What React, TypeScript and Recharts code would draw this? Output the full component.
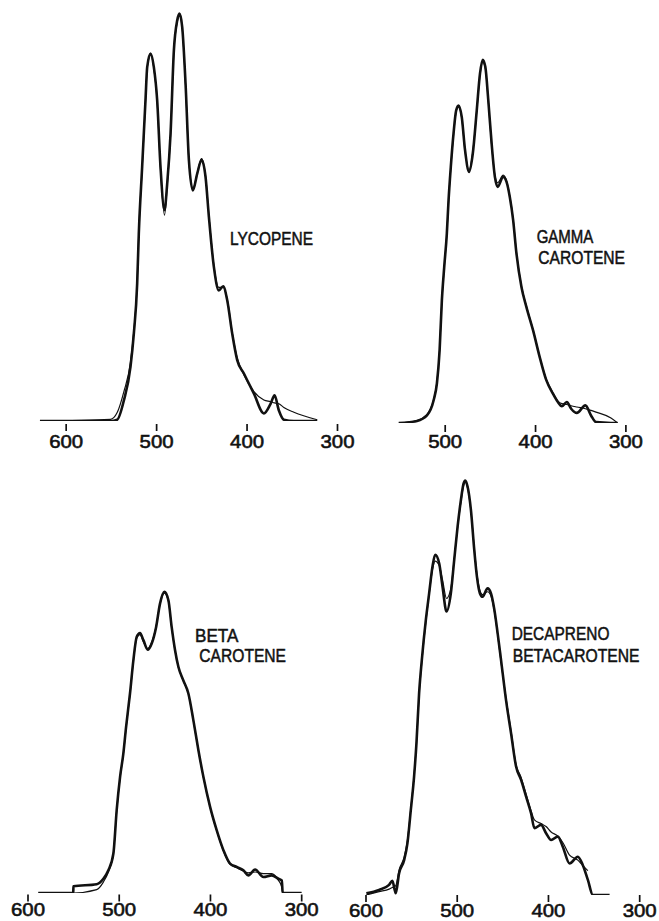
import React from 'react';
import { LineChart, Line, XAxis, YAxis } from 'recharts';

// wavelength ticks (nm)
const ticksFull = [600, 500, 400, 300];
const ticksShort = [500, 400, 300];

// LYCOPENE
const lycopeneNm = [629, 551, 543.6, 536.2, 528.9, 525.2, 521.5, 519.7, 516.0, 512.3, 510.4, 506.7, 503.1, 499.4, 495.7, 491.3, 488.3, 484.6, 480.9, 477.2, 474.7, 471.7, 468.0, 464.3, 459.9, 455.1, 450.3, 445.9, 442.2, 436.7, 431.2, 426.4, 421.9, 416.4, 410.9, 403.5, 392.4, 381.4, 374.0, 369.6, 364.8, 359.3, 348.2, 322.4];
const lycopeneObserved = [0, 0, 0.003, 0.049, 0.129, 0.208, 0.327, 0.446, 0.605, 0.764, 0.843, 0.875, 0.843, 0.764, 0.605, 0.502, 0.565, 0.684, 0.883, 0.954, 0.970, 0.938, 0.803, 0.621, 0.549, 0.589, 0.622, 0.581, 0.486, 0.367, 0.311, 0.321, 0.287, 0.208, 0.145, 0.113, 0.065, 0.018, 0.041, 0.061, 0.025, 0.003, 0, 0];
const lycopeneFitted = [0, 0.004, 0.02, 0.07, 0.14, 0.215, 0.33, 0.45, 0.60, 0.76, 0.84, 0.872, 0.84, 0.76, 0.60, 0.49, 0.56, 0.68, 0.88, 0.95, 0.966, 0.935, 0.80, 0.62, 0.553, 0.59, 0.625, 0.583, 0.49, 0.37, 0.318, 0.318, 0.29, 0.21, 0.15, 0.11, 0.07, 0.05, 0.046, 0.043, 0.041, 0.032, 0.021, 0.003];

// GAMMA CAROTENE
const gammaNm = [551.4, 531.2, 520.2, 512.8, 509.2, 506.2, 503.7, 501.1, 498.2, 496.3, 493.8, 490.8, 487.9, 485.3, 481.7, 478.0, 473.6, 469.5, 465.1, 461.5, 458.5, 455.6, 452.3, 448.6, 445.0, 442.0, 435.8, 432.1, 428.5, 424.8, 421.1, 415.6, 410.1, 402.8, 395.4, 388.1, 380.8, 375.3, 370.9, 365.4, 360.6, 354.3, 344.8, 338.6, 333.1, 316.5, 309.2];
const gammaObserved = [0, 0.005, 0.018, 0.054, 0.094, 0.173, 0.292, 0.371, 0.451, 0.530, 0.610, 0.689, 0.744, 0.756, 0.729, 0.649, 0.598, 0.641, 0.744, 0.832, 0.865, 0.848, 0.768, 0.665, 0.586, 0.562, 0.586, 0.574, 0.538, 0.483, 0.403, 0.324, 0.276, 0.221, 0.157, 0.102, 0.070, 0.050, 0.040, 0.050, 0.034, 0.024, 0.042, 0.018, 0.002, 0, 0];
const gammaFitted = [0, 0.006, 0.02, 0.056, 0.096, 0.175, 0.29, 0.37, 0.45, 0.528, 0.608, 0.686, 0.741, 0.752, 0.726, 0.647, 0.603, 0.645, 0.742, 0.828, 0.86, 0.845, 0.766, 0.662, 0.59, 0.572, 0.59, 0.576, 0.54, 0.485, 0.405, 0.326, 0.278, 0.222, 0.158, 0.104, 0.072, 0.052, 0.046, 0.044, 0.041, 0.038, 0.034, 0.030, 0.026, 0.012, 0];

// BETA CAROTENE
const betaNm = [588.7, 550.4, 550.2, 524.7, 517.4, 511.9, 506.4, 502.8, 499.1, 495.5, 492.5, 488.2, 484.5, 480.8, 477.2, 473.5, 468.8, 464.4, 459.6, 455.3, 450.5, 446.1, 442.5, 438.8, 435.1, 429.7, 424.2, 418.7, 413.2, 407.7, 400.4, 393.1, 385.8, 378.5, 371.2, 363.9, 358.4, 351.1, 341.9, 332.8, 325.5, 321.8, 320.8, 299.9];
const betaObserved = [0, 0, 0.016, 0.021, 0.034, 0.054, 0.094, 0.197, 0.276, 0.332, 0.395, 0.475, 0.554, 0.610, 0.619, 0.602, 0.579, 0.594, 0.633, 0.689, 0.717, 0.697, 0.633, 0.578, 0.538, 0.506, 0.475, 0.411, 0.340, 0.276, 0.205, 0.149, 0.102, 0.070, 0.062, 0.054, 0.042, 0.056, 0.038, 0.042, 0.034, 0.030, 0, 0];
const betaFitted = [0, 0, 0, 0.008, 0.026, 0.05, 0.094, 0.195, 0.274, 0.33, 0.393, 0.473, 0.552, 0.607, 0.615, 0.598, 0.582, 0.597, 0.635, 0.688, 0.714, 0.695, 0.632, 0.577, 0.537, 0.505, 0.474, 0.41, 0.339, 0.275, 0.204, 0.148, 0.1, 0.068, 0.06, 0.052, 0.048, 0.05, 0.046, 0.046, 0.03, 0.014, 0, 0];

// DECAPRENO BETACAROTENE
const decaprenoNm = [599.6, 585.7, 574.7, 571.1, 567.4, 563.7, 558.2, 554.6, 550.9, 547.3, 544.7, 541.8, 538.8, 534.4, 530.8, 527.1, 524.2, 519.8, 516.1, 511.7, 507.0, 503.3, 499.6, 496.0, 493.0, 491.2, 488.6, 485.0, 481.3, 478.4, 475.1, 472.2, 466.7, 463.0, 459.3, 455.7, 452.0, 446.5, 441.0, 435.5, 430.0, 424.5, 419.0, 415.4, 408.1, 402.6, 397.1, 389.7, 384.3, 376.9, 367.8, 362.3, 356.8, 351.3, 333.0];
const decaprenoObserved = [0.004, 0.012, 0.024, 0.034, 0.004, 0.052, 0.083, 0.123, 0.202, 0.282, 0.361, 0.480, 0.560, 0.655, 0.718, 0.782, 0.810, 0.790, 0.734, 0.675, 0.718, 0.798, 0.877, 0.940, 0.980, 0.987, 0.972, 0.917, 0.821, 0.758, 0.718, 0.710, 0.730, 0.718, 0.679, 0.623, 0.560, 0.464, 0.385, 0.306, 0.274, 0.234, 0.194, 0.159, 0.167, 0.147, 0.131, 0.139, 0.115, 0.075, 0.091, 0.071, 0.036, 0, 0];
const decaprenoFitted = [0, 0.008, 0.014, 0.018, 0.022, 0.06, 0.09, 0.13, 0.205, 0.285, 0.36, 0.475, 0.555, 0.65, 0.715, 0.775, 0.795, 0.785, 0.75, 0.706, 0.73, 0.80, 0.875, 0.935, 0.975, 0.983, 0.968, 0.915, 0.825, 0.765, 0.725, 0.715, 0.722, 0.712, 0.675, 0.62, 0.555, 0.468, 0.39, 0.31, 0.28, 0.24, 0.2, 0.179, 0.17, 0.163, 0.15, 0.14, 0.125, 0.095, 0.083, 0.07, 0.058, null, null];

const INK = '#111';
const PLOT_H = 420; // px for 1.0 absorbance
const MT = 3;
const ML = 22;
const MR = 26;
const AXIS_H = 34;

const toRows = (nm: number[], v: (number | null)[]) => nm.map((w, i) => ({ nm: w, v: v[i] }));

const WaveTick = (props: any) => {
  const { x, y, payload, gap, len, textDy } = props;
  return (
    <g>
      <line x1={x} x2={x} y1={y + gap} y2={y + gap + len} stroke={INK} strokeWidth={1.7} />
      <text
        x={x}
        y={y + textDy}
        textAnchor="middle"
        fontFamily="'Liberation Sans', Arial, sans-serif"
        fontSize={19}
        fill={INK}
        stroke={INK}
        strokeWidth={0.6}
        textLength={34}
        lengthAdjust="spacingAndGlyphs"
      >
        {payload.value}
      </text>
    </g>
  );
};

interface PanelProps {
  nm: number[];
  observed: number[];
  fitted: (number | null)[];
  domain: [number, number];
  ticks: number[];
  left: number;
  width: number;
  baseline: number;
  tickGap: number;
  textDy: number;
}

const SpectrumPanel: React.FC<PanelProps> = ({ nm, observed, fitted, domain, ticks, left, width, baseline, tickGap, textDy }) => (
  <div style={{ position: 'absolute', left: left - ML, top: baseline - PLOT_H - MT }}>
    <LineChart width={width + ML + MR} height={MT + PLOT_H + AXIS_H} margin={{ top: MT, right: MR, left: ML, bottom: 0 }}>
      <XAxis
        dataKey="nm"
        type="number"
        domain={domain}
        reversed
        allowDataOverflow
        ticks={ticks}
        interval={0}
        height={AXIS_H}
        axisLine={false}
        tickLine={false}
        tickSize={0}
        tickMargin={0}
        tick={(p: any) => <WaveTick {...p} gap={tickGap} len={7} textDy={textDy} />}
      />
      <YAxis hide type="number" domain={[0, 1]} allowDataOverflow />
      <Line data={toRows(nm, fitted)} dataKey="v" type="monotone" stroke={INK} strokeWidth={1.2} dot={false} activeDot={false} isAnimationActive={false} />
      <Line data={toRows(nm, observed)} dataKey="v" type="monotone" stroke={INK} strokeWidth={2.6} dot={false} activeDot={false} isAnimationActive={false} />
    </LineChart>
  </div>
);

const labelStyle = {
  fontFamily: "'Liberation Sans', Arial, sans-serif",
  fontSize: 18,
  fill: INK,
  stroke: INK,
  strokeWidth: 0.5,
};

export default function App() {
  return (
    <div style={{ position: 'absolute', left: 0, top: 0, width: 659, height: 921, overflow: 'hidden', background: '#fff' }}>
      <SpectrumPanel nm={lycopeneNm} observed={lycopeneObserved} fitted={lycopeneFitted} domain={[300, 640]} ticks={ticksFull} left={29.5} width={307.5} baseline={420.7} tickGap={3} textDy={26.5} />
      <SpectrumPanel nm={gammaNm} observed={gammaObserved} fitted={gammaFitted} domain={[300, 560]} ticks={ticksShort} left={390.8} width={234.9} baseline={422.7} tickGap={2} textDy={25} />
      <SpectrumPanel nm={betaNm} observed={betaObserved} fitted={betaFitted} domain={[300, 600]} ticks={ticksFull} left={28} width={273.7} baseline={893} tickGap={1.5} textDy={23.5} />
      <SpectrumPanel nm={decaprenoNm} observed={decaprenoObserved} fitted={decaprenoFitted} domain={[300, 600]} ticks={ticksFull} left={366.3} width={273.7} baseline={895} tickGap={0} textDy={22} />
      <svg width={659} height={921} style={{ position: 'absolute', left: 0, top: 0, pointerEvents: 'none' }}>
        <text x={230} y={245} textLength={83} lengthAdjust="spacingAndGlyphs" {...labelStyle}>LYCOPENE</text>
        <text x={536.7} y={243.3} textLength={56.7} lengthAdjust="spacingAndGlyphs" {...labelStyle}>GAMMA</text>
        <text x={538.3} y={264} textLength={86.7} lengthAdjust="spacingAndGlyphs" {...labelStyle}>CAROTENE</text>
        <text x={195} y={641.7} textLength={43.3} lengthAdjust="spacingAndGlyphs" {...labelStyle}>BETA</text>
        <text x={199.3} y={662.3} textLength={86.7} lengthAdjust="spacingAndGlyphs" {...labelStyle}>CAROTENE</text>
        <text x={511.7} y={640} textLength={97.7} lengthAdjust="spacingAndGlyphs" {...labelStyle}>DECAPRENO</text>
        <text x={512.7} y={661.7} textLength={126.7} lengthAdjust="spacingAndGlyphs" {...labelStyle}>BETACAROTENE</text>
      </svg>
    </div>
  );
}
